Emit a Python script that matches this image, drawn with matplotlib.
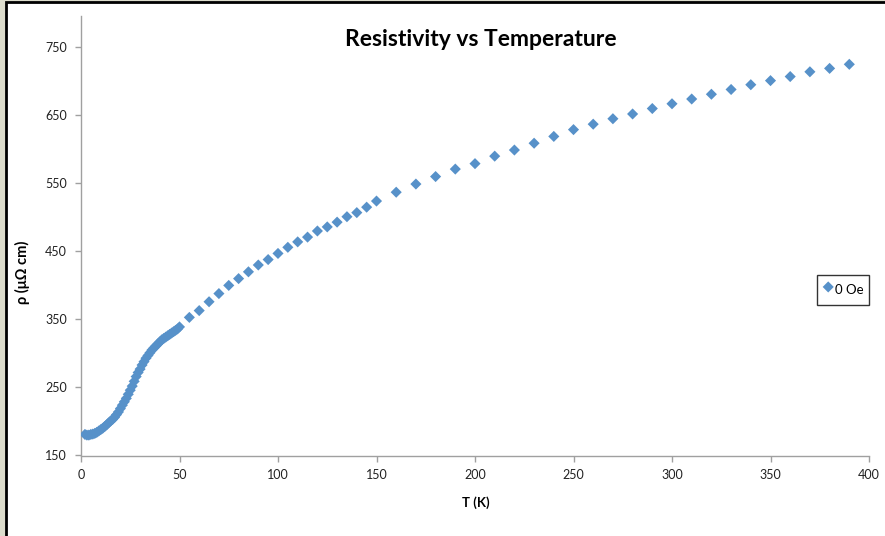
import matplotlib
matplotlib.use("Agg")
import matplotlib.pyplot as plt
from matplotlib.patches import Rectangle

plt.rcParams["font.family"] = ["Lato", "DejaVu Sans"]

# ===== データ=====
temp_low = [2, 3, 4, 5, 6, 7, 8, 9, 10, 11, 12, 13, 14, 15, 16, 17, 18, 19, 20,
            21, 22, 23, 24, 25, 26, 27, 28, 29, 30, 31, 32, 33, 34, 35, 36, 37,
            38, 39, 40, 41, 42, 43, 44, 45, 46, 47, 48, 49]
rho_low = [181, 180, 180, 181, 181.5, 182.5, 184, 186, 188, 190, 192.5, 195,
           198, 200.5, 203, 206, 210, 214, 219, 224, 229, 234, 240, 246, 252,
           259, 266, 272, 277, 283, 288, 293, 297, 301, 305, 308, 311, 314,
           317, 320, 322, 324, 326, 328, 330, 332, 334, 336]

temp_mid = [50, 55, 60, 65, 70, 75, 80, 85, 90, 95, 100, 105, 110, 115, 120,
            125, 130, 135, 140, 145]
rho_mid = [339, 353, 363, 376, 388, 400, 410, 420, 430, 438, 447, 456, 464,
           471, 480, 486, 493, 501, 507, 515]

temp_high = [150, 160, 170, 180, 190, 200, 210, 220, 230, 240, 250, 260, 270,
             280, 290, 300, 310, 320, 330, 340, 350, 360, 370, 380, 390]
rho_high = [524, 537, 549, 560, 571, 579, 590, 599, 609, 619, 629, 637, 645,
            652, 660, 667, 674, 681, 688, 695, 701, 707, 714, 719, 725]

temperature = temp_low + temp_mid + temp_high
resistivity = rho_low + rho_mid + rho_high

x_ticks = [0, 50, 100, 150, 200, 250, 300, 350, 400]
y_ticks = [150, 250, 350, 450, 550, 650, 750]

# ===== グラフ =====
W, H = 885, 536
fig = plt.figure(figsize=(W / 100, H / 100), dpi=100)
fig.patch.set_facecolor("#dcdccc")
# 白いチャート領域（左・上に黒い枠）
fig.patches.append(Rectangle((6 / W, -0.1), 1.2, 1.1 - 2 / H,
                             transform=fig.transFigure, facecolor="white",
                             edgecolor="black", linewidth=2, zorder=-10))

ax = fig.add_axes([81 / W, 80.5 / H, (869 - 81) / W, (520 - 80.5) / H])
ax.set_facecolor("none")
ax.scatter(temperature, resistivity, marker="D", s=32, color="#5791C9",
           edgecolors="none", label="0 Oe", zorder=3)

ax.set_xlim(0, 400)
ax.set_ylim(150, 796)
ax.set_xticks(x_ticks)
ax.set_yticks(y_ticks)
for side in ["top", "right"]:
    ax.spines[side].set_visible(False)
for side in ["left", "bottom"]:
    ax.spines[side].set_color("#a0a0a0")
    ax.spines[side].set_linewidth(1)
ax.tick_params(direction="out", length=4, width=1, color="#a0a0a0",
               labelsize=9, labelcolor="#222222", pad=6)

ax.set_xlabel("T (K)", fontsize=9.5, fontweight="bold")
ax.xaxis.set_label_coords((476 - 81) / 788, -(496 - 455.5) / 439.5)
ax.set_ylabel("ρ (μΩ cm)", fontsize=10.5, fontweight="bold")
ax.yaxis.set_label_coords((30 - 81) / 788, (455.5 - 272) / 439.5)

fig.text(481 / W, 1 - 40 / H, "Resistivity vs Temperature", ha="center",
         va="center", fontsize=16.5, fontweight="bold")

leg = ax.legend(loc="upper left",
                bbox_to_anchor=((817 - 81) / 788, (455.5 - 275) / 439.5),
                fontsize=9.5, frameon=True, fancybox=False, handletextpad=0.1,
                handlelength=0.9, handleheight=1.9, borderpad=0.4,
                borderaxespad=0, markerscale=1.0)
leg.get_frame().set_edgecolor("black")
leg.get_frame().set_linewidth(1)

fig.savefig("out.png", dpi=100, facecolor=fig.get_facecolor())
